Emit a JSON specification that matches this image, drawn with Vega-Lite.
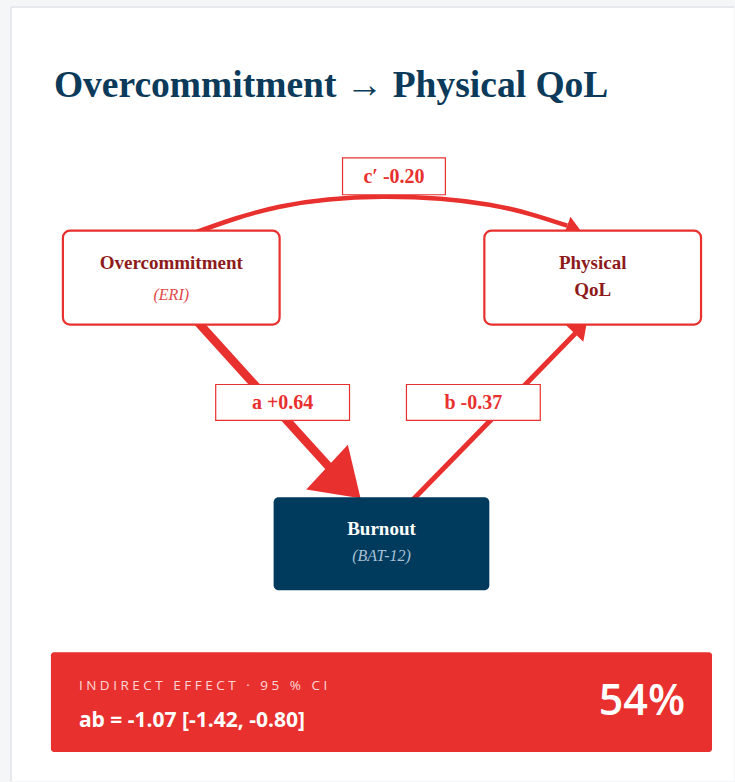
{
  "$schema": "https://vega.github.io/schema/vega-lite/v6.json",
  "autosize": {"type": "fit", "contains": "padding"},
  "width": 735,
  "height": 782,
  "padding": 0,
  "background": "#f5f6f8",
  "config": {"view": {"stroke": null}},
  "datasets": {
    "card": [{"x": 11, "x2": 735, "y": 7, "y2": 782}],
    "cardEdges": [
      {"x": 11, "x2": 11, "y": 7, "y2": 782},
      {"x": 11, "x2": 735, "y": 7, "y2": 7}
    ],
    "title": [{"x": 54, "y": 97, "text": "Overcommitment → Physical QoL"}],
    "arc": [
      {"i": 0, "x": 195, "y": 233},
      {"i": 1, "x": 280, "y": 207},
      {"i": 2, "x": 383, "y": 197},
      {"i": 3, "x": 490, "y": 205},
      {"i": 4, "x": 568, "y": 226}
    ],
    "arcHead": [{"x": 583, "y": 233}],
    "pathA": [{"i": 0, "x": 194, "y": 318}, {"i": 1, "x": 329, "y": 467}],
    "headA": [{"x": 361, "y": 499}],
    "pathB": [{"i": 0, "x": 411, "y": 503}, {"i": 1, "x": 576, "y": 334}],
    "headB": [{"x": 588, "y": 321}],
    "outBoxes": [
      {"name": "Overcommitment", "x": 63, "x2": 280, "y": 231, "y2": 325},
      {"name": "Physical QoL", "x": 485, "x2": 702, "y": 231, "y2": 325}
    ],
    "medBox": [{"name": "Burnout", "x": 274, "x2": 490, "y": 498, "y2": 591}],
    "outNames": [
      {"x": 171.5, "y": 263, "text": "Overcommitment"},
      {"x": 593.5, "y": 263, "text": "Physical"},
      {"x": 593.5, "y": 290, "text": "QoL"}
    ],
    "outSubs": [{"x": 171.5, "y": 295, "text": "(ERI)"}],
    "medName": [{"x": 382, "y": 530, "text": "Burnout"}],
    "medSub": [{"x": 382, "y": 557, "text": "(BAT-12)"}],
    "labelBoxes": [
      {"path": "c'", "x": 343, "x2": 446, "y": 158, "y2": 195},
      {"path": "a", "x": 216, "x2": 350, "y": 385, "y2": 421},
      {"path": "b", "x": 407, "x2": 541, "y": 385, "y2": 421}
    ],
    "labelTexts": [
      {"x": 394.5, "y": 177, "text": "c′ -0.20"},
      {"x": 283, "y": 404, "text": "a +0.64"},
      {"x": 474, "y": 404, "text": "b -0.37"}
    ],
    "banner": [{"x": 51, "x2": 713, "y": 653, "y2": 753}],
    "bannerKicker": [{"x": 79, "y": 691, "text": "I N D I R E C T \u00a0 E F F E C T \u00a0 · \u00a0 9 5 \u00a0 % \u00a0 C I"}],
    "bannerMain": [{"x": 79, "y": 728, "text": "ab = -1.07 [-1.42, -0.80]"}],
    "bannerPct": [{"x": 686, "y": 716, "text": "54%"}]
  },
  "encoding": {
    "x": {"field": "x", "type": "quantitative", "scale": {"domain": [0, 735], "nice": false, "zero": false}, "axis": null},
    "y": {"field": "y", "type": "quantitative", "scale": {"domain": [0, 782], "nice": false, "zero": false, "reverse": true}, "axis": null}
  },
  "layer": [
    {
      "data": {"name": "card"},
      "mark": {"type": "rect", "fill": "#ffffff"},
      "encoding": {"x2": {"field": "x2"}, "y2": {"field": "y2"}}
    },
    {
      "data": {"name": "cardEdges"},
      "mark": {"type": "rule", "color": "#dfe3e9", "strokeWidth": 1.5},
      "encoding": {"x2": {"field": "x2"}, "y2": {"field": "y2"}}
    },
    {
      "data": {"name": "title"},
      "mark": {"type": "text", "font": "Liberation Serif", "fontWeight": "bold", "fontSize": 37.5, "color": "#0b3a5a", "align": "left", "baseline": "alphabetic"},
      "encoding": {"text": {"field": "text"}}
    },
    {
      "data": {"name": "arc"},
      "mark": {"type": "line", "color": "#e8302e", "strokeWidth": 4.5, "interpolate": "natural"},
      "encoding": {"order": {"field": "i"}}
    },
    {
      "data": {"name": "arcHead"},
      "mark": {"type": "point", "shape": "M0,0L-1,1.5L1,1.5Z", "size": 484, "angle": 110, "filled": true, "color": "#e8302e", "opacity": 1},
      "encoding": {}
    },
    {
      "data": {"name": "pathA"},
      "mark": {"type": "line", "color": "#e8302e", "strokeWidth": 8.5},
      "encoding": {"order": {"field": "i"}}
    },
    {
      "data": {"name": "headA"},
      "mark": {"type": "point", "shape": "M0,0L-1,1.5L1,1.5Z", "size": 3721, "angle": 133, "filled": true, "color": "#e8302e", "opacity": 1},
      "encoding": {}
    },
    {
      "data": {"name": "pathB"},
      "mark": {"type": "line", "color": "#e8302e", "strokeWidth": 5},
      "encoding": {"order": {"field": "i"}}
    },
    {
      "data": {"name": "headB"},
      "mark": {"type": "point", "shape": "M0,0L-1,1.5L1,1.5Z", "size": 576, "angle": 44, "filled": true, "color": "#e8302e", "opacity": 1},
      "encoding": {}
    },
    {
      "data": {"name": "outBoxes"},
      "mark": {"type": "rect", "fill": "#ffffff", "stroke": "#e8302e", "strokeWidth": 2.2, "cornerRadius": 7},
      "encoding": {"x2": {"field": "x2"}, "y2": {"field": "y2"}}
    },
    {
      "data": {"name": "medBox"},
      "mark": {"type": "rect", "fill": "#003a5c", "cornerRadius": 5},
      "encoding": {"x2": {"field": "x2"}, "y2": {"field": "y2"}}
    },
    {
      "data": {"name": "outNames"},
      "mark": {"type": "text", "font": "Liberation Serif", "fontWeight": "bold", "fontSize": 19, "color": "#8e1b1b", "align": "center", "baseline": "middle"},
      "encoding": {"text": {"field": "text"}}
    },
    {
      "data": {"name": "outSubs"},
      "mark": {"type": "text", "font": "Liberation Serif", "fontStyle": "italic", "fontSize": 16, "color": "#e0494a", "align": "center", "baseline": "middle"},
      "encoding": {"text": {"field": "text"}}
    },
    {
      "data": {"name": "medName"},
      "mark": {"type": "text", "font": "Liberation Serif", "fontWeight": "bold", "fontSize": 19, "color": "#ffffff", "align": "center", "baseline": "middle"},
      "encoding": {"text": {"field": "text"}}
    },
    {
      "data": {"name": "medSub"},
      "mark": {"type": "text", "font": "Liberation Serif", "fontStyle": "italic", "fontSize": 16, "color": "#a9c1d4", "align": "center", "baseline": "middle"},
      "encoding": {"text": {"field": "text"}}
    },
    {
      "data": {"name": "labelBoxes"},
      "mark": {"type": "rect", "fill": "#ffffff", "stroke": "#e8302e", "strokeWidth": 1.2},
      "encoding": {"x2": {"field": "x2"}, "y2": {"field": "y2"}}
    },
    {
      "data": {"name": "labelTexts"},
      "mark": {"type": "text", "font": "Liberation Serif", "fontWeight": "bold", "fontSize": 20, "color": "#e8302e", "align": "center", "baseline": "middle"},
      "encoding": {"text": {"field": "text"}}
    },
    {
      "data": {"name": "banner"},
      "mark": {"type": "rect", "fill": "#e8302e", "cornerRadius": 3},
      "encoding": {"x2": {"field": "x2"}, "y2": {"field": "y2"}}
    },
    {
      "data": {"name": "bannerKicker"},
      "mark": {"type": "text", "font": "Open Sans", "fontWeight": 400, "fontSize": 13.5, "color": "#ffffff", "opacity": 0.8, "align": "left", "baseline": "alphabetic"},
      "encoding": {"text": {"field": "text"}}
    },
    {
      "data": {"name": "bannerMain"},
      "mark": {"type": "text", "font": "Open Sans", "fontWeight": "bold", "fontSize": 21, "color": "#ffffff", "align": "left", "baseline": "alphabetic"},
      "encoding": {"text": {"field": "text"}}
    },
    {
      "data": {"name": "bannerPct"},
      "mark": {"type": "text", "font": "Open Sans", "fontWeight": 600, "fontSize": 43, "color": "#ffffff", "align": "right", "baseline": "alphabetic"},
      "encoding": {"text": {"field": "text"}}
    }
  ]
}
